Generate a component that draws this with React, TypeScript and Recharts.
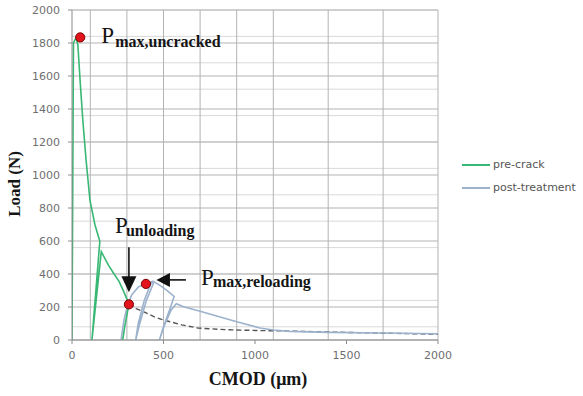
import React from 'react';
import {
  LineChart, Line, XAxis, YAxis, CartesianGrid, ReferenceDot, Legend, Label,
} from 'recharts';

// ---- data (CMOD in µm, load in N) ----
const preCrack = [
  { x: 0, y: 0 }, { x: 4, y: 900 }, { x: 8, y: 1800 }, { x: 22, y: 1832 },
  { x: 32, y: 1790 }, { x: 45, y: 1560 }, { x: 60, y: 1320 }, { x: 77, y: 1090 },
  { x: 98, y: 848 }, { x: 125, y: 700 }, { x: 152, y: 598 }, { x: 109, y: 0 },
  { x: 160, y: 535 }, { x: 200, y: 452 }, { x: 230, y: 400 }, { x: 257, y: 355 },
  { x: 282, y: 295 }, { x: 300, y: 248 }, { x: 311, y: 216 }, { x: 288, y: 80 },
  { x: 277, y: 0 },
];

const postTreatment = [
  { x: 268, y: 0 }, { x: 284, y: 120 }, { x: 300, y: 195 }, { x: 326, y: 273 },
  { x: 363, y: 322 }, { x: 404, y: 341 }, { x: 445, y: 358 }, { x: 430, y: 340 },
  { x: 395, y: 240 }, { x: 362, y: 100 }, { x: 348, y: 0 }, { x: 368, y: 90 },
  { x: 405, y: 235 }, { x: 448, y: 352 }, { x: 485, y: 328 }, { x: 522, y: 298 },
  { x: 558, y: 264 }, { x: 532, y: 178 }, { x: 496, y: 68 }, { x: 478, y: 0 },
  { x: 502, y: 80 }, { x: 542, y: 182 }, { x: 570, y: 220 }, { x: 610, y: 202 },
  { x: 700, y: 174 }, { x: 800, y: 142 }, { x: 900, y: 110 }, { x: 1027, y: 73 },
  { x: 1100, y: 61 }, { x: 1191, y: 52 }, { x: 1400, y: 46 }, { x: 1700, y: 42 },
  { x: 2000, y: 38 },
];

const preCrackEnvelope = [
  { x: 311, y: 216 }, { x: 350, y: 190 }, { x: 390, y: 172 }, { x: 450, y: 140 },
  { x: 500, y: 121 }, { x: 600, y: 92 }, { x: 690, y: 72 }, { x: 850, y: 62 },
  { x: 1030, y: 57 }, { x: 1150, y: 55 }, { x: 1500, y: 46 }, { x: 2000, y: 35 },
];

const keyPoints = [
  { name: 'max,uncracked', x: 45, y: 1834 },
  { name: 'unloading', x: 311, y: 216 },
  { name: 'max,reloading', x: 404, y: 340 },
];

const legendOrder = ['pre-crack', 'post-treatment'];

const xTicks = [0, 500, 1000, 1500, 2000];
const yTicks = [0, 200, 400, 600, 800, 1000, 1200, 1400, 1600, 1800, 2000];
const xGridLines = [0, 100, 200, 300, 400, 500, 600, 700, 800, 900, 1000, 1100, 1200, 1300, 1400, 1500, 1600, 1700, 1800, 1900, 2000];
const yGridMinor = [
  0, 40, 80, 120, 160, 200, 240, 280, 320, 360, 400, 440, 480, 520, 560, 600, 640, 680, 720, 760, 800,
  840, 880, 920, 960, 1000, 1040, 1080, 1120, 1160, 1200, 1240, 1280, 1320, 1360, 1400, 1440, 1480, 1520,
  1560, 1600, 1640, 1680, 1720, 1760, 1800, 1840, 1880, 1920, 1960, 2000,
];

const GREEN = '#38b874';
const BLUE = '#9cb2cc';
const SERIF = '"Liberation Serif", "Times New Roman", serif';
const SANS = '"DejaVu Sans", sans-serif';

const Dot = ({ cx, cy }: any) => (
  <circle cx={cx} cy={cy} r={4.6} fill="#e3141b" stroke="#7a0000" strokeWidth={1} />
);

const PText = ({ x, y, sx, sy, sub }: any) => (
  <text fontFamily={SERIF} fill="#151515">
    <tspan x={x} y={y} fontSize={23}>P</tspan>
    <tspan x={sx} y={sy} fontSize={16} fontWeight="bold">{sub}</tspan>
  </text>
);

const UncrackedShape = (p: any) => {
  const { cx, cy } = p;
  return (
    <g>
      <Dot cx={cx} cy={cy} />
      <PText x={cx + 21} y={cy + 6} sx={cx + 35} sy={cy + 9.5} sub="max,uncracked" />
    </g>
  );
};

const UnloadingShape = (p: any) => {
  const { cx, cy } = p;
  return (
    <g>
      <line x1={cx} y1={cy - 57} x2={cx} y2={cy - 27} stroke="#111" strokeWidth={1.6} />
      <polygon points={`${cx - 7.5},${cy - 28} ${cx + 7.5},${cy - 28} ${cx},${cy - 12}`} fill="#111" />
      <PText x={cx - 14} y={cy - 71} sx={cx - 3} sy={cy - 68} sub="unloading" />
      <Dot cx={cx} cy={cy} />
    </g>
  );
};

const ReloadingShape = (p: any) => {
  const { cx, cy } = p;
  return (
    <g>
      <line x1={cx + 23} y1={cy - 4} x2={cx + 40} y2={cy - 4} stroke="#111" strokeWidth={1.6} />
      <polygon points={`${cx + 24},${cy - 11} ${cx + 24},${cy + 3} ${cx + 10.5},${cy - 4}`} fill="#111" />
      <PText x={cx + 55} y={cy + 1} sx={cx + 67} sy={cy + 3.5} sub="max,reloading" />
      <Dot cx={cx} cy={cy} />
    </g>
  );
};

const shapes: Record<string, any> = {
  'max,uncracked': UncrackedShape,
  unloading: UnloadingShape,
  'max,reloading': ReloadingShape,
};

const LegendContent = ({ payload }: any) => {
  const items = (payload || [])
    .filter((e: any) => legendOrder.includes(e.value))
    .sort((a: any, b: any) => legendOrder.indexOf(a.value) - legendOrder.indexOf(b.value));
  return (
    <div style={{ fontFamily: SANS, fontSize: 11, color: '#555' }}>
      {items.map((e: any) => (
        <div key={e.value} style={{ display: 'flex', alignItems: 'center', height: 23 }}>
          <svg width={28} height={6} style={{ marginRight: 3 }}>
            <line x1={0} y1={3} x2={28} y2={3} stroke={e.color} strokeWidth={2} />
          </svg>
          <span>{e.value}</span>
        </div>
      ))}
    </div>
  );
};

export default function App() {
  return (
    <div style={{ position: 'absolute', left: 0, top: 0, width: 583, height: 396, background: '#fff' }}>
      <LineChart width={583} height={396} margin={{ top: 10, right: 145, bottom: 0, left: 0 }}>
        <CartesianGrid horizontal={true} vertical={false} horizontalValues={yGridMinor} stroke="#d9d9d9" strokeWidth={1} />
        <CartesianGrid horizontal={true} vertical={true} horizontalValues={yTicks} verticalValues={xGridLines} stroke="#b3b3b3" strokeWidth={1} />
        <XAxis
          type="number" dataKey="x" domain={[0, 2000]} ticks={xTicks} allowDataOverflow
          height={56} tickSize={4} tickMargin={7} stroke="#8c8c8c"
          tick={{ fontFamily: SANS, fontSize: 11, fill: '#6f6f6f' }}
        >
          <Label
            content={({ viewBox }: any) => (
              <text x={viewBox.x + viewBox.width / 2 + 3} y={viewBox.y + 45} textAnchor="middle"
                fontFamily={SERIF} fontWeight="bold" fontSize={18} fill="#151515">CMOD (μm)</text>
            )}
          />
        </XAxis>
        <YAxis
          type="number" dataKey="y" domain={[0, 2000]} ticks={yTicks} allowDataOverflow
          width={72} tickSize={4} tickMargin={8} stroke="#8c8c8c"
          tick={{ fontFamily: SANS, fontSize: 11, fill: '#6f6f6f' }}
        >
          <Label
            content={({ viewBox }: any) => {
              const cx = viewBox.x + 14;
              const cy = viewBox.y + viewBox.height / 2 + 9;
              return (
                <text x={cx} y={cy} transform={`rotate(-90 ${cx} ${cy})`} textAnchor="middle" dominantBaseline="central"
                  fontFamily={SERIF} fontWeight="bold" fontSize={17} fill="#151515">Load (N)</text>
              );
            }}
          />
        </YAxis>
        <Legend
          layout="vertical" align="center" verticalAlign="middle"
          wrapperStyle={{ position: 'absolute', left: 462, top: 153, width: 120 }}
          content={LegendContent}
        />
        <Line data={preCrackEnvelope} dataKey="y" name="envelope" type="linear" stroke="#555" strokeWidth={1.4}
          strokeDasharray="5 3" dot={false} legendType="none" isAnimationActive={false} />
        <Line data={postTreatment} dataKey="y" name="post-treatment" type="linear" stroke={BLUE} strokeWidth={1.6}
          dot={false} isAnimationActive={false} />
        <Line data={preCrack} dataKey="y" name="pre-crack" type="linear" stroke={GREEN} strokeWidth={1.6}
          dot={false} isAnimationActive={false} />
        {keyPoints.map((k) => (
          <ReferenceDot key={k.name} x={k.x} y={k.y} r={4.6} shape={shapes[k.name]} />
        ))}
      </LineChart>
    </div>
  );
}
